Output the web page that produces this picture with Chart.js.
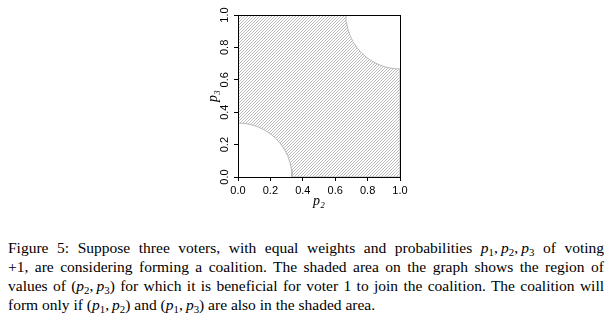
<!DOCTYPE html>
<html>
<head>
<meta charset="utf-8">
<script src="https://cdn.jsdelivr.net/npm/chart.js@4.4.1/dist/chart.umd.min.js"></script>
<style>
  html, body { margin: 0; padding: 0; background: #fff; width: 612px; height: 314px; overflow: hidden; }
  #wrap { position: absolute; left: 0; top: 0; width: 612px; height: 232px; }
  #caption { position: absolute; left: 8px; top: 238px; width: 596px; font-family: "Liberation Serif", "DejaVu Serif", serif; font-size: 15.5px; line-height: 19px; color: #000; }
  #caption .ln { text-align: justify; text-align-last: justify; height: 19px; overflow: visible; }
  #caption .last { text-align: left; text-align-last: left; }
  #caption sub { font-size: 70%; vertical-align: -3px; line-height: 0; font-style: normal; }
</style>
</head>
<body>
<div id="wrap"><canvas id="c" width="612" height="232"></canvas></div>
<div id="caption">
  <div class="ln">Figure 5: Suppose three voters, with equal weights and probabilities <i>p</i><sub>1</sub>,&thinsp;<i>p</i><sub>2</sub>,&thinsp;<i>p</i><sub>3</sub> of voting</div>
  <div class="ln">+1, are considering forming a coalition. The shaded area on the graph shows the region of</div>
  <div class="ln">values of (<i>p</i><sub>2</sub>,&thinsp;<i>p</i><sub>3</sub>) for which it is beneficial for voter 1 to join the coalition. The coalition will</div>
  <div class="ln last">form only if (<i>p</i><sub>1</sub>,&thinsp;<i>p</i><sub>2</sub>) and (<i>p</i><sub>1</sub>,&thinsp;<i>p</i><sub>3</sub>) are also in the shaded area.</div>
</div>
<script>
// ---- data ----
const xTickValues = [0, 0.2, 0.4, 0.6, 0.8, 1.0];
const yTickValues = [0, 0.2, 0.4, 0.6, 0.8, 1.0];
const xTitle = 'p\u2082';
const yTitle = 'p\u2083';
// boundary of the shaded region: unit square minus two quarter discs (radius ~1/3)
const lowerArc = [
  [0.0000, 0.3333], [0.0435, 0.3305], [0.0863, 0.3220], [0.1276, 0.3080],
  [0.1667, 0.2887], [0.2029, 0.2645], [0.2357, 0.2357], [0.2645, 0.2029],
  [0.2887, 0.1667], [0.3080, 0.1276], [0.3220, 0.0863], [0.3305, 0.0435],
  [0.3333, 0.0000]
];
const lowerRightCorner = [[1.0, 0.0]];
const upperArc = [
  [1.0000, 0.6667], [0.9565, 0.6695], [0.9137, 0.6780], [0.8724, 0.6920],
  [0.8333, 0.7113], [0.7971, 0.7355], [0.7643, 0.7643], [0.7355, 0.7971],
  [0.7113, 0.8333], [0.6920, 0.8724], [0.6780, 0.9137], [0.6695, 0.9565],
  [0.6667, 1.0000]
];
const upperLeftCorner = [[0.0, 1.0]];

const regionPoints = [...lowerArc, ...lowerRightCorner, ...upperArc, ...upperLeftCorner, lowerArc[0]]
  .map(p => ({x: p[0], y: p[1]}));

// hatch pattern "////"
function makeHatch() {
  const n = 3;
  const c = document.createElement('canvas');
  c.width = n; c.height = n;
  const g = c.getContext('2d');
  const img = g.createImageData(n, n);
  for (let i = 0; i < n * n; i++) { img.data[i*4] = 255; img.data[i*4+1] = 255; img.data[i*4+2] = 255; img.data[i*4+3] = 255; }
  for (let r = 0; r < n; r++) {
    const col = n - 1 - r;
    const k = (r * n + col) * 4;
    img.data[k] = 188; img.data[k+1] = 188; img.data[k+2] = 188; img.data[k+3] = 255;
  }
  g.putImageData(img, 0, 0);
  return g.createPattern(c, 'repeat');
}

const AXIS_W = 45, AXIS_H = 45;
const boxPlugin = {
  id: 'box',
  afterDraw(chart) {
    const a = chart.chartArea, ctx = chart.ctx;
    ctx.save();
    ctx.strokeStyle = '#000';
    ctx.lineWidth = 1;
    ctx.strokeRect(Math.round(a.left) + 0.5, Math.round(a.top) + 0.5, Math.round(a.right - a.left), Math.round(a.bottom - a.top));
    ctx.restore();
  }
};

const tickFont = { family: "'Liberation Sans', Arial, sans-serif", size: 11 };
const titleFont = { family: "'Liberation Serif', 'DejaVu Serif', serif", size: 14, style: 'italic' };

new Chart(document.getElementById('c'), {
  type: 'scatter',
  data: {
    datasets: [{
      data: regionPoints,
      showLine: true,
      tension: 0,
      pointRadius: 0,
      borderColor: '#b8b8b8',
      borderWidth: 1,
      backgroundColor: makeHatch(),
      fill: 'shape'
    }]
  },
  options: {
    responsive: false,
    maintainAspectRatio: false,
    animation: false,
    devicePixelRatio: 1,
    layout: { padding: { left: 238 - AXIS_W, right: 212, top: 15, bottom: 232 - 177 - AXIS_H } },
    plugins: { legend: { display: false }, tooltip: { enabled: false } },
    scales: {
      x: {
        type: 'linear', min: 0, max: 1,
        afterFit(s) { s.height = AXIS_H; },
        afterBuildTicks(s) { s.ticks = xTickValues.map(v => ({value: v})); },
        ticks: { font: tickFont, color: '#000', padding: 3, maxRotation: 0, autoSkip: false, callback: v => Number(v).toFixed(1) },
        grid: { display: true, drawOnChartArea: false, drawTicks: true, tickLength: 4, color: '#000', tickColor: '#000' },
        border: { display: true, color: '#000', width: 1 },
        title: { display: true, text: xTitle, font: titleFont, color: '#000', padding: { top: 0, bottom: 12 } }
      },
      y: {
        type: 'linear', min: 0, max: 1,
        afterFit(s) { s.width = AXIS_W; },
        afterBuildTicks(s) { s.ticks = yTickValues.map(v => ({value: v})); },
        ticks: { font: tickFont, color: '#000', padding: 1.5, minRotation: 90, maxRotation: 90, crossAlign: 'center', autoSkip: false, callback: v => Number(v).toFixed(1) },
        grid: { display: true, drawOnChartArea: false, drawTicks: true, tickLength: 4, color: '#000', tickColor: '#000' },
        border: { display: true, color: '#000', width: 1 },
        title: { display: true, text: yTitle, font: titleFont, color: '#000', padding: { top: 12, bottom: 0 } }
      }
    }
  },
  plugins: [boxPlugin]
});
</script>
</body>
</html>
